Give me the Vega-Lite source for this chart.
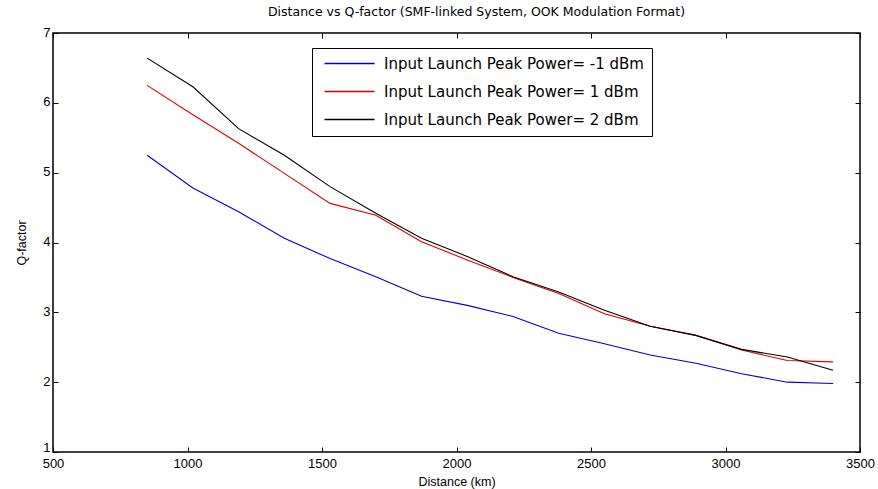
{
  "$schema": "https://vega.github.io/schema/vega-lite/v6.json",
  "autosize": "none",
  "width": 807,
  "height": 419,
  "padding": {"left": 53, "top": 33, "right": 18, "bottom": 37},
  "background": "white",
  "config": {
    "font": "Liberation Sans",
    "view": {"stroke": "black", "strokeWidth": 1.5},
    "axis": {"grid": false, "domain": false, "tickColor": "black", "labelColor": "black", "titleColor": "black", "labelFont": "Liberation Sans", "titleFont": "Liberation Sans", "labelFontSize": 13, "titleFontSize": 12.5, "titleFontWeight": "normal"}
  },
  "title": {"text": "Distance vs Q-factor (SMF-linked System, OOK Modulation Format)", "fontSize": 12.5, "fontWeight": "normal", "font": "DejaVu Sans", "offset": 8, "dx": 20, "color": "black"},
  "data": {"values": [
    {"distance": 850, "power": "-1", "q": 5.25},
    {"distance": 1020, "power": "-1", "q": 4.78},
    {"distance": 1190, "power": "-1", "q": 4.44},
    {"distance": 1360, "power": "-1", "q": 4.06},
    {"distance": 1530, "power": "-1", "q": 3.77},
    {"distance": 1700, "power": "-1", "q": 3.51},
    {"distance": 1870, "power": "-1", "q": 3.23},
    {"distance": 2040, "power": "-1", "q": 3.10},
    {"distance": 2210, "power": "-1", "q": 2.94},
    {"distance": 2380, "power": "-1", "q": 2.70},
    {"distance": 2550, "power": "-1", "q": 2.55},
    {"distance": 2720, "power": "-1", "q": 2.39},
    {"distance": 2890, "power": "-1", "q": 2.27},
    {"distance": 3060, "power": "-1", "q": 2.12},
    {"distance": 3230, "power": "-1", "q": 2.00},
    {"distance": 3400, "power": "-1", "q": 1.98},
    {"distance": 850, "power": "1", "q": 6.25},
    {"distance": 1020, "power": "1", "q": 5.83},
    {"distance": 1190, "power": "1", "q": 5.42},
    {"distance": 1360, "power": "1", "q": 4.99},
    {"distance": 1530, "power": "1", "q": 4.56},
    {"distance": 1700, "power": "1", "q": 4.39},
    {"distance": 1870, "power": "1", "q": 4.01},
    {"distance": 2040, "power": "1", "q": 3.75},
    {"distance": 2210, "power": "1", "q": 3.50},
    {"distance": 2380, "power": "1", "q": 3.27},
    {"distance": 2550, "power": "1", "q": 2.98},
    {"distance": 2720, "power": "1", "q": 2.80},
    {"distance": 2890, "power": "1", "q": 2.67},
    {"distance": 3060, "power": "1", "q": 2.46},
    {"distance": 3230, "power": "1", "q": 2.31},
    {"distance": 3400, "power": "1", "q": 2.29},
    {"distance": 850, "power": "2", "q": 6.64},
    {"distance": 1020, "power": "2", "q": 6.23},
    {"distance": 1190, "power": "2", "q": 5.63},
    {"distance": 1360, "power": "2", "q": 5.25},
    {"distance": 1530, "power": "2", "q": 4.80},
    {"distance": 1700, "power": "2", "q": 4.42},
    {"distance": 1870, "power": "2", "q": 4.06},
    {"distance": 2040, "power": "2", "q": 3.80},
    {"distance": 2210, "power": "2", "q": 3.51},
    {"distance": 2380, "power": "2", "q": 3.29},
    {"distance": 2550, "power": "2", "q": 3.03},
    {"distance": 2720, "power": "2", "q": 2.80},
    {"distance": 2890, "power": "2", "q": 2.67},
    {"distance": 3060, "power": "2", "q": 2.47},
    {"distance": 3230, "power": "2", "q": 2.36},
    {"distance": 3400, "power": "2", "q": 2.17}
  ]},
  "layer": [
    {
      "mark": {"type": "line", "strokeWidth": 1.1},
      "encoding": {
        "x": {"field": "distance", "type": "quantitative", "scale": {"domain": [500, 3500], "nice": false, "zero": false},
              "axis": {"orient": "bottom", "values": [500, 1000, 1500, 2000, 2500, 3000, 3500], "format": "d", "tickSize": -5, "labelPadding": 10, "title": "Distance (km)", "titlePadding": 5, "labelFlush": false}},
        "y": {"field": "q", "type": "quantitative", "scale": {"domain": [1, 7], "nice": false, "zero": false},
              "axis": {"orient": "left", "values": [1, 2, 3, 4, 5, 6, 7], "tickSize": -5, "labelPadding": 8,
                       "labelOffset": {"condition": {"test": "datum.value == 1", "value": -5}, "value": -1},
                       "title": "Q-factor", "titlePadding": 14}},
        "color": {"field": "power", "type": "nominal",
          "scale": {"domain": ["-1", "1", "2"], "range": ["#0000cc", "#e00000", "#000000"]},
          "legend": {"orient": "none", "legendX": 259, "legendY": 15, "title": null,
            "labelExpr": "datum.label == '-1' ? 'Input Launch Peak Power= -1 dBm' : datum.label == '1' ? 'Input Launch Peak Power=  1 dBm' : 'Input Launch Peak Power=  2 dBm'",
            "symbolType": "M-5,0H5", "symbolSize": 100, "symbolStrokeWidth": 1.3, "symbolOffset": 22, "labelOffset": 27,
            "padding": 8, "rowPadding": 12, "labelFontSize": 15, "labelColor": "black", "labelFont": "DejaVu Sans",
            "strokeColor": "black", "fillColor": "white", "labelLimit": 400}}
      }
    },
    {
      "mark": {"type": "line", "opacity": 0},
      "encoding": {
        "x": {"field": "distance", "type": "quantitative", "axis": {"orient": "top", "values": [500, 1000, 1500, 2000, 2500, 3000, 3500], "tickSize": -5, "labels": false, "title": null}},
        "y": {"field": "q", "type": "quantitative", "axis": {"orient": "right", "values": [1, 2, 3, 4, 5, 6, 7], "tickSize": -5, "labels": false, "title": null}},
        "detail": {"field": "power"}
      }
    }
  ],
  "resolve": {"axis": {"x": "independent", "y": "independent"}}
}
